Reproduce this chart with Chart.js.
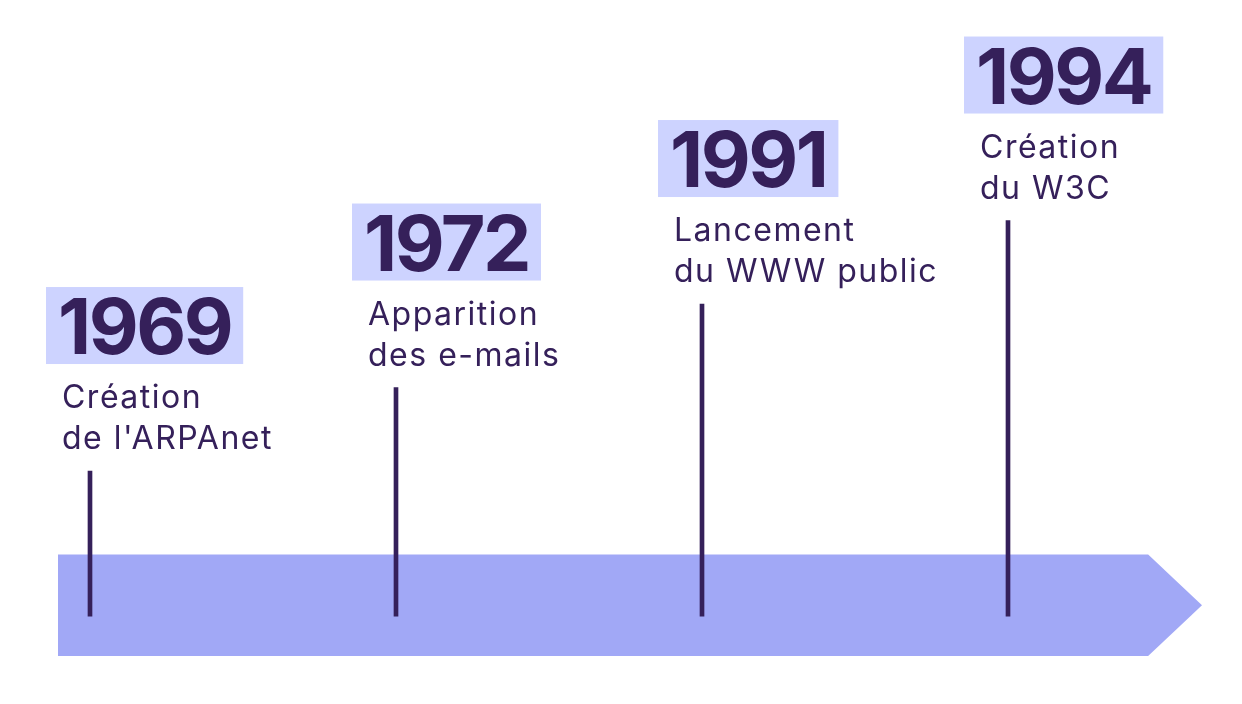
<!DOCTYPE html>
<html>
<head>
<meta charset="utf-8">
<script src="https://cdn.jsdelivr.net/npm/chart.js@4.4.1/dist/chart.umd.min.js"></script>
<style>
  html, body { margin: 0; padding: 0; background: #ffffff; }
  #wrap { width: 1242px; height: 704px; }
</style>
</head>
<body>
<div id="wrap"><canvas id="timelineChart"></canvas></div>
<script>
// Données de la frise
const years = ['1969', '1972', '1991', '1994'];
const captions = [
    ['Création', "de l'ARPAnet"],
    ['Apparition', 'des e-mails'],
    ['Lancement', 'du WWW public'],
    ['Création', 'du W3C']
];
const levels = [1, 2, 3, 4];   // hauteur de chaque trait (en paliers)
const baseLevel = -0.737;      // bas des traits, dans la bande

const DARK = '#35205a';
const BOX = '#cdd3ff';
const BAND = '#a1a8f6';

// Bande fléchée dessinée sous les traits
const bandPlugin = {
    id: 'band',
    beforeDatasetsDraw(chart) {
        const { ctx, scales: { x, y } } = chart;
        const left = x.getPixelForValue(-0.1046);
        const shoulder = x.getPixelForValue(3.458);
        const tip = x.getPixelForValue(3.634);
        const top = y.getPixelForValue(0);
        const bottom = y.getPixelForValue(-1.216);
        ctx.save();
        ctx.fillStyle = BAND;
        ctx.beginPath();
        ctx.moveTo(left, top);
        ctx.lineTo(shoulder, top);
        ctx.lineTo(tip, (top + bottom) / 2);
        ctx.lineTo(shoulder, bottom);
        ctx.lineTo(left, bottom);
        ctx.closePath();
        ctx.fill();
        ctx.restore();
    }
};

// Années encadrées et légendes au-dessus de chaque trait
const labelPlugin = {
    id: 'labels',
    afterDatasetsDraw(chart) {
        const { ctx } = chart;
        const meta = chart.getDatasetMeta(0);
        ctx.save();
        meta.data.forEach(function(bar, i) {
            const cx = bar.x;
            const topY = bar.y;
            // année
            ctx.font = '700 77px Inter';
            ctx.letterSpacing = '-2.5px';
            const w = ctx.measureText(years[i]).width;
            const textLeft = cx - 32;
            ctx.fillStyle = BOX;
            ctx.fillRect(textLeft - 12, topY - 184, w + 24, 77);
            ctx.fillStyle = DARK;
            ctx.textBaseline = 'alphabetic';
            ctx.textAlign = 'left';
            ctx.fillText(years[i], textLeft, topY - 117);
            // légende
            ctx.font = '400 32px Inter';
            ctx.letterSpacing = '1.5px';
            captions[i].forEach(function(line, j) {
                ctx.fillText(line, cx - 28, topY - 63 + j * 41);
            });
        });
        ctx.restore();
    }
};

document.addEventListener('DOMContentLoaded', function() {
    const ctx = document.getElementById('timelineChart');
    new Chart(ctx.getContext('2d'), {
        type: 'bar',
        data: {
            datasets: [{
                label: 'Jalons',
                data: years.map(function(yr, i) {
                    return { x: i, y: [baseLevel, levels[i]] };
                }),
                backgroundColor: DARK,
                borderWidth: 0,
                barThickness: 4
            }]
        },
        options: {
            responsive: true,
            maintainAspectRatio: false,
            animation: false,
            layout: { padding: 0 },
            scales: {
                x: { type: 'linear', display: false, offset: false, min: -0.2941, max: 3.7647 },
                y: { type: 'linear', display: false, min: -1.790, max: 6.641 }
            },
            plugins: {
                legend: { display: false },
                tooltip: { enabled: false }
            }
        },
        plugins: [bandPlugin, labelPlugin]
    });
});
</script>
</body>
</html>
